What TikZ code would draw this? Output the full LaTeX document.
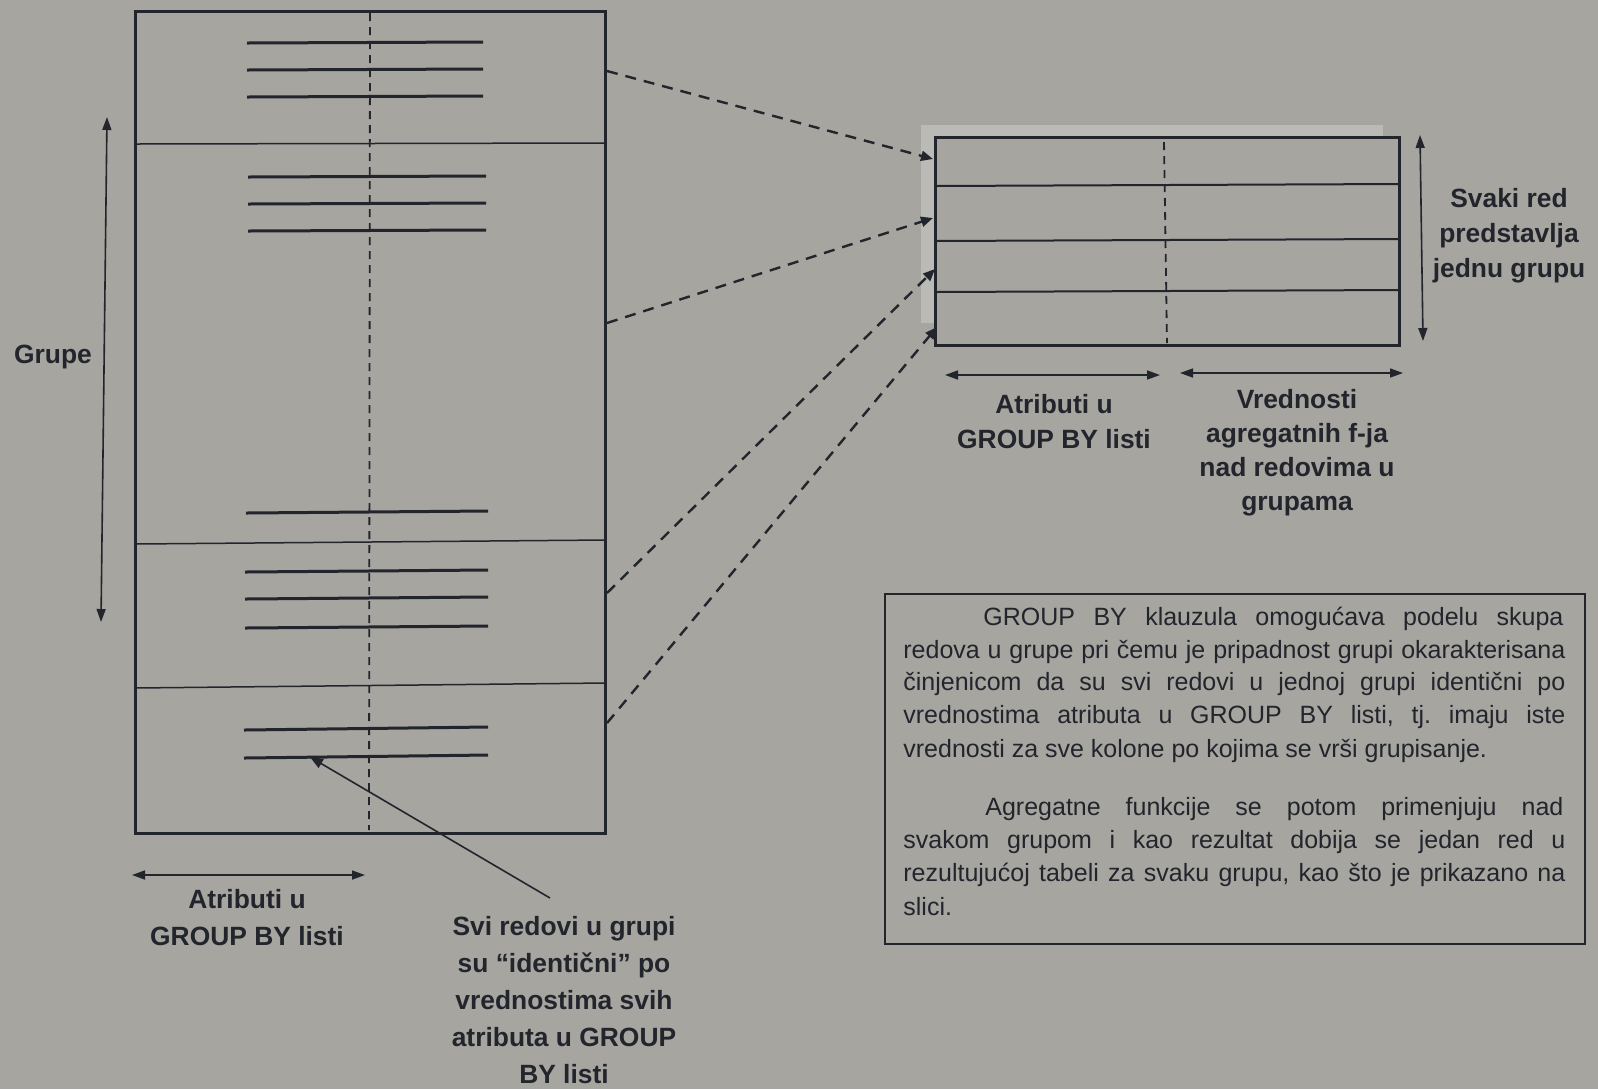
\documentclass[tikz,border=0pt]{standalone}
\usepackage{fontspec}
\setmainfont{Liberation Sans}
\usetikzlibrary{arrows.meta}
\frenchspacing

\definecolor{paper}{RGB}{166,165,160}
\definecolor{ink}{RGB}{34,37,44}
\definecolor{halo}{RGB}{186,186,183}

\tikzset{
  frame/.style={draw=ink, line width=1.5pt},
  divider/.style={draw=ink, line width=0.75pt},
  rowline/.style={draw=ink, line width=1.5pt},
  midcut/.style={draw=ink, line width=0.9pt, dash pattern=on 4pt off 3pt},
  feed/.style={draw=ink, line width=1.2pt, dash pattern=on 5.5pt off 4pt,
               -{Triangle[length=6pt,width=5pt]}},
  span/.style={draw=ink, line width=0.8pt,
               {Triangle[length=6.5pt,width=4.5pt]}-{Triangle[length=6.5pt,width=4.5pt]}},
  pointer/.style={draw=ink, line width=0.8pt, -{Triangle[length=6.5pt,width=5pt]}},
  lbl/.style={text=ink, align=center, inner sep=0pt, anchor=north},
  lblfont/.style={font=\fontsize{13.2}{#1}\selectfont\bfseries},
  txt/.style={text=ink, inner sep=0pt, anchor=base west,
              font=\fontsize{12.5}{16}\selectfont},
}

\newcommand{\fullline}[1]{\makebox[331pt][s]{#1}}
\newcommand{\firstline}[1]{\makebox[290pt][s]{#1}}

\begin{document}
\begin{tikzpicture}[x=0.5pt,y=-0.5pt]
  \useasboundingbox (0,0) rectangle (1598,1089);
  \fill[paper] (0,0) rectangle (1598,1089);

  % ---------- source table with its groups ----------
  \draw[frame] (135,11) rectangle (605,833);
  \draw[divider] (135,144) -- (605,143);
  \draw[divider] (135,544) -- (605,540);
  \draw[divider] (135,688) -- (605,683);
  \draw[midcut] (370,13) -- (369,830);

  % rows of the first group
  \foreach \y in {43,70,97}   \draw[rowline] (247,\y) -- (483,\y-1);
  % rows of the second group
  \foreach \y in {177,204,231} \draw[rowline] (248,\y) -- (486,\y-1);
  \draw[rowline] (246,513) -- (488,511);
  % rows of the third group
  \foreach \y in {572,599,628} \draw[rowline] (245,\y) -- (488,\y-2);
  % rows of the fourth group
  \draw[rowline] (244,730) -- (488,727);
  \draw[rowline] (244,758) -- (488,755);

  % group extent
  \coordinate (grp-top) at (107,117);
  \coordinate (grp-bot) at (101,622);
  \draw[span] (grp-top) -- (grp-bot);
  \node[text=ink, inner sep=0pt, anchor=base, lblfont=18.5] (grupe) at (53,363) {Grupe};

  % attribute extent below the source table
  \coordinate (att-l) at (132,875);
  \coordinate (att-r) at (365,875);
  \draw[span] (att-l) -- (att-r);
  \node[lbl, lblfont=18.5] (att-lbl) at (247,889) {Atributi u\\GROUP BY listi};

  % note about identical rows
  \node[lbl, lblfont=18.5] (same-lbl) at (564,916)
    {Svi redovi u grupi\\su “identični” po\\vrednostima svih\\atributa u GROUP\\BY listi};
  \coordinate (same-tail) at (550,898);
  \coordinate (same-tip) at (310,757);
  \draw[pointer] (same-tail) -- (same-tip);

  % ---------- result table ----------
  \fill[halo] (921,125) rectangle (1383,137);
  \fill[halo] (921,125) rectangle (934,323);
  \draw[frame] (935,137) rectangle (1399,345);
  \draw[divider, line width=1pt] (935,186) -- (1399,184);
  \draw[divider, line width=1pt] (935,241) -- (1399,239);
  \draw[divider, line width=1pt] (935,292) -- (1399,290);
  \draw[midcut] (1164,142) -- (1167,343);

  % dashed links from each group to its result row
  \coordinate (src-a) at (607,71);
  \coordinate (src-b) at (607,323);
  \coordinate (src-c) at (607,593);
  \coordinate (src-d) at (607,723);
  \coordinate (dst-a) at (933,159);
  \coordinate (dst-b) at (933,218);
  \coordinate (dst-c) at (935,269);
  \coordinate (dst-d) at (937,327);
  \draw[feed] (src-a) -- (dst-a);
  \draw[feed] (src-b) -- (dst-b);
  \draw[feed] (src-c) -- (dst-c);
  \draw[feed] (src-d) -- (dst-d);

  % one row per group
  \coordinate (row-top) at (1420,135);
  \coordinate (row-bot) at (1423,341);
  \draw[span] (row-top) -- (row-bot);
  \node[lbl, lblfont=17.5] (row-lbl) at (1509,188) {Svaki red\\predstavlja\\jednu grupu};

  % column extents of the result table
  \coordinate (key-l) at (945,375);
  \coordinate (key-r) at (1160,375);
  \coordinate (agg-l) at (1180,373);
  \coordinate (agg-r) at (1403,373);
  \draw[span] (key-l) -- (key-r);
  \draw[span] (agg-l) -- (agg-r);
  \node[lbl, lblfont=17.5] (key-lbl) at (1054,394) {Atributi u\\GROUP BY listi};
  \node[lbl, lblfont=17] (agg-lbl) at (1297,389)
    {Vrednosti\\agregatnih f-ja\\nad redovima u\\grupama};

  % ---------- explanation box ----------
  \draw[draw=ink, line width=1pt] (885,594) rectangle (1585,944);
  \node[txt] (p1) at (983,625) {\firstline{GROUP BY klauzula omogućava podelu skupa}};
  \node[txt] (p2) at (903,658) {\fullline{redova u grupe pri čemu je pripadnost grupi okarakterisana}};
  \node[txt] (p3) at (903,690) {\fullline{činjenicom da su svi redovi u jednoj grupi identični po}};
  \node[txt] (p4) at (903,723) {\fullline{vrednostima atributa u GROUP BY listi, tj. imaju iste}};
  \node[txt] (p5) at (903,757) {vrednosti za sve kolone po kojima se vrši grupisanje.};
  \node[txt] (q1) at (985,815) {\makebox[289pt][s]{Agregatne funkcije se potom primenjuju nad}};
  \node[txt] (q2) at (903,848) {\fullline{svakom grupom i kao rezultat dobija se jedan red u}};
  \node[txt] (q3) at (903,881) {\fullline{rezultujućoj tabeli za svaku grupu, kao što je prikazano na}};
  \node[txt] (q4) at (903,915) {slici.};
\end{tikzpicture}
\end{document}
